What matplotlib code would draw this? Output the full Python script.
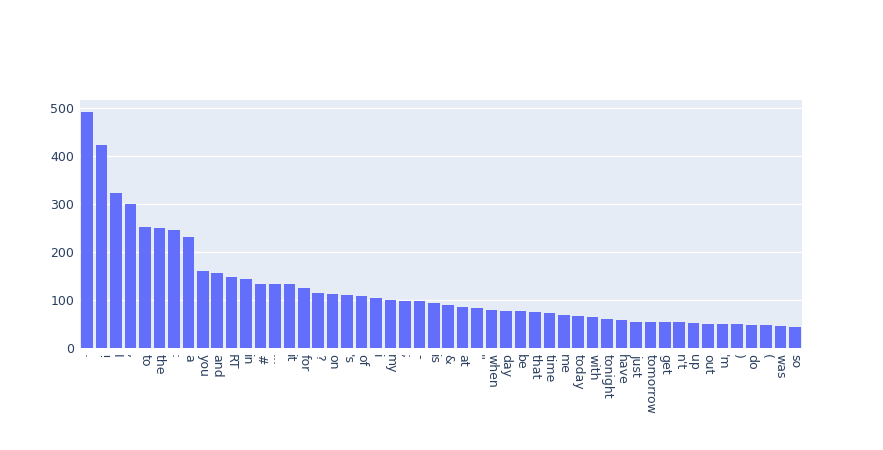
import matplotlib
matplotlib.use("Agg")
import matplotlib.pyplot as plt

words = ['.', '!', 'I', ',', 'to', 'the', ':', 'a', 'you', 'and', 'RT', 'in', '#', '...', 'it', 'for', '?', 'on', "'s", 'of', 'i', 'my', ';', '-', 'is', '&', 'at', "''", 'when', 'day', 'be', 'that', 'time', 'me', 'today', 'with', 'tonight', 'have', 'just', 'tomorrow', 'get', "n't", 'up', 'out', "'m", ')', 'do', '(', 'was', 'so']
counts = [490, 422, 322, 300, 251, 249, 246, 230, 161, 156, 148, 143, 134, 134, 133, 124, 114, 112, 110, 108, 104, 100, 98, 97, 94, 90, 85, 83, 79, 78, 76, 75, 72, 68, 66, 65, 61, 58, 55, 55, 54, 54, 51, 50, 49, 49, 47, 47, 45, 43]

W, H = 883, 450
fig = plt.figure(figsize=(W/100, H/100), dpi=100)
ax = fig.add_axes([80/W, 1-348/H, (802-80)/W, (348-100)/H])
ax.set_facecolor('#E5ECF6')
x = range(len(words))
ax.bar(x, counts, width=0.8, color='#636EFA', zorder=3)
ax.set_xlim(-0.5, len(words)-0.5)
ax.set_ylim(0, 516)
ax.set_yticks([0, 100, 200, 300, 400, 500])
ax.grid(axis='y', color='white', linewidth=1, zorder=0)
ax.set_xticks(list(x))
ax.set_xticklabels(words, rotation=-90, fontsize=9, color='#2a3f5f')
for lab in ax.get_yticklabels():
    lab.set_fontsize(9); lab.set_color('#2a3f5f')
ax.tick_params(length=0, pad=4)
for s in ax.spines.values():
    s.set_visible(False)
fig.savefig('out.png', dpi=100)
